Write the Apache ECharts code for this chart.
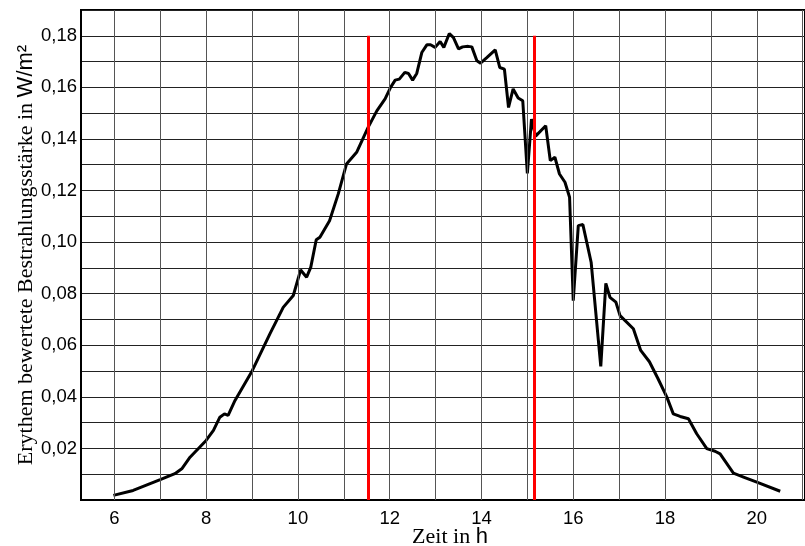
<!DOCTYPE html>
<html>
<head>
<meta charset="utf-8">
<script src="https://cdn.jsdelivr.net/npm/echarts@6/dist/echarts.min.js"></script>
<style>
  html, body { margin: 0; padding: 0; background: #fff; }
  #chart { width: 805px; height: 546px; }
</style>
</head>
<body>
<div id="chart"></div>
<script>
// Zeit in h
const hours = [
  5.98, 6.41, 7.00, 7.32, 7.47, 7.65, 8.00, 8.16, 8.30, 8.40, 8.48, 8.63, 8.99, 9.39,
  9.68, 9.90, 10.06, 10.19, 10.28, 10.40, 10.48, 10.69, 10.88, 11.06, 11.28, 11.53,
  11.72, 11.90, 12.02, 12.12, 12.21, 12.33, 12.41, 12.50, 12.59, 12.70, 12.81, 12.89,
  12.99, 13.10, 13.18, 13.30, 13.39, 13.50, 13.59, 13.71, 13.79, 13.90, 13.98, 14.11,
  14.30, 14.40, 14.50, 14.59, 14.69, 14.80, 14.90, 15.00, 15.09, 15.18, 15.40, 15.50,
  15.60, 15.70, 15.82, 15.92, 16.00, 16.11, 16.21, 16.39, 16.60, 16.71, 16.80, 16.93,
  17.02, 17.31, 17.47, 17.66, 17.84, 18.04, 18.18, 18.33, 18.51, 18.69, 18.91, 19.09,
  19.20, 19.49, 19.71, 20.00, 20.51
]
// Erythem bewertete Bestrahlungsstaerke in W/m²
const irradiance = [
  0.0018, 0.0037, 0.0079, 0.0102, 0.0121, 0.0166, 0.0231, 0.0270, 0.0321, 0.0334, 0.0328, 0.0386, 0.0496, 0.0644,
  0.0747, 0.0793, 0.0892, 0.0864, 0.0902, 0.1009, 0.1019, 0.1083, 0.1187, 0.1303, 0.1348, 0.1445,
  0.1509, 0.1555, 0.1600, 0.1628, 0.1632, 0.1658, 0.1654, 0.1628, 0.1654, 0.1735, 0.1765, 0.1765,
  0.1755, 0.1778, 0.1755, 0.1809, 0.1793, 0.1749, 0.1757, 0.1759, 0.1757, 0.1703, 0.1694, 0.1714,
  0.1745, 0.1677, 0.1671, 0.1522, 0.1594, 0.1559, 0.1548, 0.1266, 0.1477, 0.1411, 0.1451, 0.1316,
  0.1329, 0.1264, 0.1232, 0.1174, 0.0773, 0.1064, 0.1068, 0.0922, 0.0518, 0.0840, 0.0786, 0.0767,
  0.0715, 0.0664, 0.0580, 0.0536, 0.0473, 0.0399, 0.0334, 0.0324, 0.0315, 0.0257, 0.0199, 0.0189,
  0.0179, 0.0104, 0.0089, 0.0069, 0.0034
]
const xTickLabels = [6, 8, 10, 12, 14, 16, 18, 20]
const xGridHours = [6, 7, 8, 9, 10, 11, 12, 13, 14, 15, 16, 17, 18, 19, 20, 21]
const redMarks = [11.54, 15.15]
const redTop = 0.18

const serif = 'Liberation Serif'
const sans = 'Liberation Sans'

const chart = echarts.init(document.getElementById('chart'))

chart.setOption({
  animation: false,
  backgroundColor: '#fff',
  grid: {
    left: 81, top: 10, right: 0, bottom: 46,
    outerBoundsMode: 'none',
    containLabel: false,
    show: true, borderColor: '#000', borderWidth: 2
  },
  xAxis: {
    type: 'value',
    min: 5.274,
    max: 21.05,
    name: '{a|Zeit in }{b|h}',
    nameLocation: 'middle',
    nameGap: 26,
    nameMoveOverlap: false,
    nameTextStyle: {
      padding: [0, 0, 0, 14],
      rich: {
        a: { fontFamily: serif, fontSize: 22, color: '#000' },
        b: { fontFamily: sans, fontSize: 22, color: '#000' }
      }
    },
    axisLine: { show: true, onZero: false, lineStyle: { color: '#000', width: 2 } },
    axisTick: { show: false },
    splitLine: { show: false },
    axisLabel: {
      customValues: xTickLabels,
      color: '#000',
      fontFamily: sans,
      fontSize: 18.5,
      margin: 9,
      formatter: v => String(Math.round(v))
    }
  },
  yAxis: {
    type: 'value',
    min: 0,
    max: 0.19,
    interval: 0.01,
    name: '{a|Erythem bewertete Bestrahlungsstärke in }{b|W/m²}',
    nameLocation: 'middle',
    nameGap: 44,
    nameMoveOverlap: false,
    nameTextStyle: {
      rich: {
        a: { fontFamily: serif, fontSize: 22, color: '#000' },
        b: { fontFamily: sans, fontSize: 22, color: '#000' }
      }
    },
    axisLine: { show: true, lineStyle: { color: '#000', width: 2 } },
    axisTick: { show: false },
    splitLine: { show: true, lineStyle: { color: '#222', width: 1 } },
    axisLabel: {
      color: '#000',
      fontFamily: sans,
      fontSize: 18.5,
      margin: 4,
      formatter: v => {
        const k = Math.round(v * 100)
        if (k === 0 || k % 2 !== 0) return ''
        return (k / 100).toFixed(2).replace('.', ',')
      }
    }
  },
  series: [
    {
      // vertical grid lines, one per hour
      type: 'line',
      data: [],
      silent: true,
      z: 1,
      markLine: {
        silent: true,
        symbol: 'none',
        label: { show: false },
        lineStyle: { color: '#555', width: 1, type: 'solid' },
        data: xGridHours.map(h => ({ xAxis: h }))
      }
    },
    {
      type: 'line',
      data: hours.map((h, i) => [h, irradiance[i]]),
      showSymbol: false,
      smooth: false,
      z: 3,
      lineStyle: { color: '#000', width: 3 },
      markLine: {
        silent: true,
        symbol: 'none',
        label: { show: false },
        lineStyle: { color: '#ff0000', width: 3, type: 'solid' },
        data: redMarks.map(h => [{ coord: [h, 0] }, { coord: [h, redTop] }])
      }
    }
  ]
})
</script>
</body>
</html>
